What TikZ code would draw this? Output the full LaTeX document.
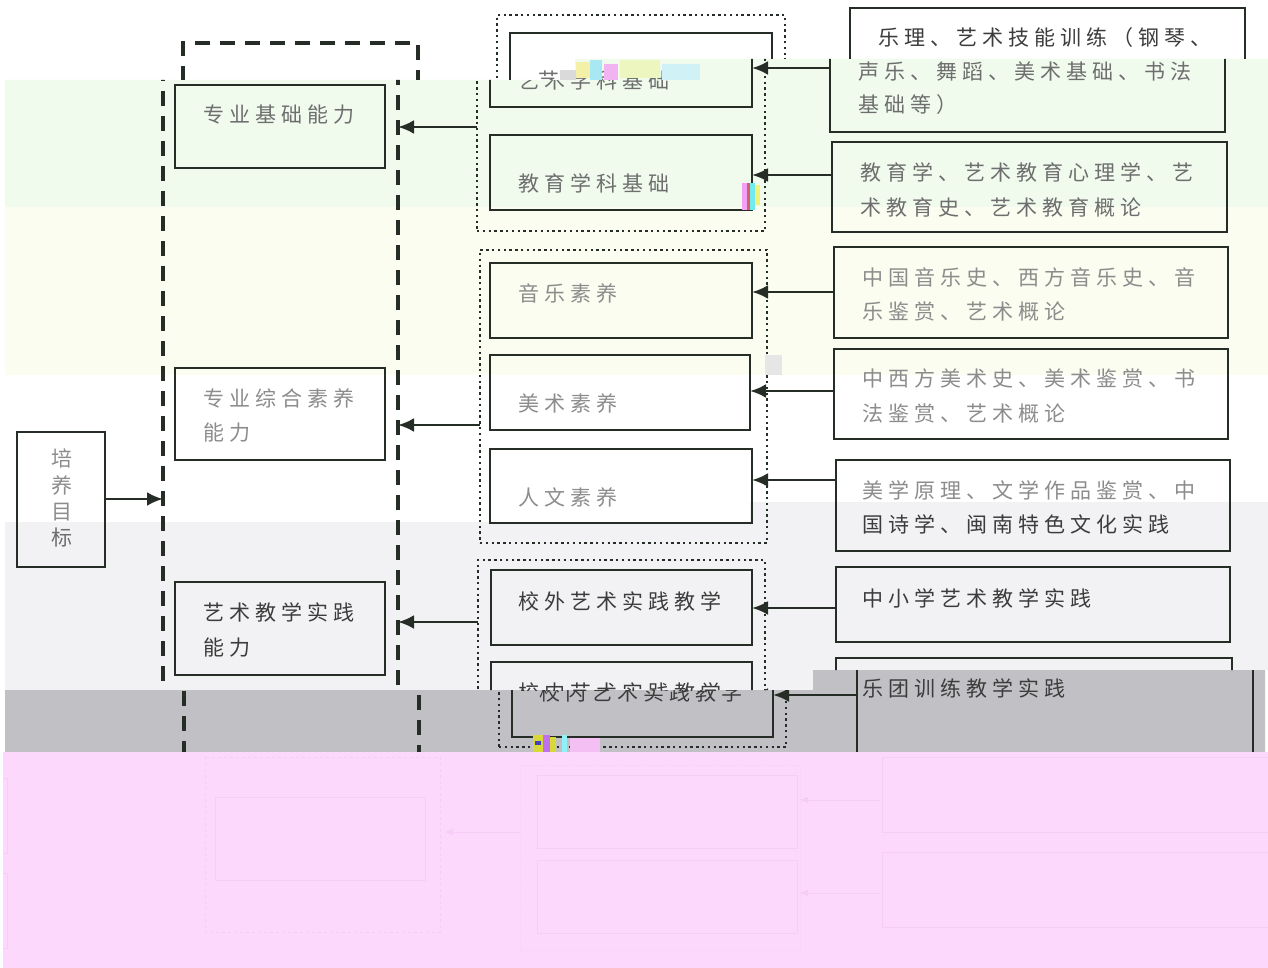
\documentclass[tikz,border=0pt]{standalone}
\usepackage{fontspec}
\newfontfamily\cjk{Noto Sans CJK SC}[LetterSpace=24]
\usetikzlibrary{arrows.meta}
\definecolor{boxc}{HTML}{262C26}
\definecolor{tA}{HTML}{3C3C3C}
\definecolor{tB}{HTML}{6E6E6E}
\definecolor{tC}{HTML}{8C8C8C}
\definecolor{bgG}{HTML}{F0FBEE}
\definecolor{bgY}{HTML}{FBFDF0}
\definecolor{bgL}{HTML}{F2F2F4}
\definecolor{bgD}{HTML}{C1C1C5}
\definecolor{bgP}{HTML}{FCD9FC}
\definecolor{ghost}{HTML}{F6CDF6}
\tikzset{
 box/.style={draw=boxc, line width=2.8pt, anchor=north west, inner sep=0pt, outer sep=0pt},
 grp/.style={draw=boxc, line width=2.6pt, dash pattern=on 2.4pt off 3.4pt, anchor=north west, inner sep=0pt, outer sep=0pt},
 bigdash/.style={draw=boxc, line width=3.2pt, dash pattern=on 15pt off 10pt, anchor=north west, inner sep=0pt, outer sep=0pt},
 arr/.style={draw=boxc, line width=2.8pt, -{Latex[length=16pt,width=14pt]}},
 txt/.style={anchor=west, inner sep=0pt, font=\cjk\fontsize{21}{26}\selectfont},
 gbox/.style={draw=ghost, line width=1pt},
}
\newcommand\rect[6]{\node[#1, minimum width={(#5-#3)*1pt}, minimum height={(#6-#4)*1pt}] (#2) at (#3,#4) {};}
\newcommand\conn[3]{\coordinate (cy) at (0,#3); \draw[arr] (#1.west |- cy) -- (#2.east |- cy);}
\newcommand\gl[5]{\definecolor{glc}{HTML}{#1}\fill[glc] (#2,#3) rectangle (#4,#5);}
\newcommand\T[5]{\node[txt, text=#2] (#1) at (#3,#4) {#5};}
\newcommand\shapes{%
 \rect{bigdash}{dbox}{163}{43}{398}{800}
 \rect{box}{goal}{17}{432}{105}{567}
 \rect{box}{m1}{175}{85}{385}{168}
 \rect{box}{m2}{175}{368}{385}{460}
 \rect{box}{m3}{175}{582}{385}{675}
 \rect{grp}{g1}{477}{15}{765}{231}
 \rect{grp}{g2}{480}{250}{767}{543}
 \rect{grp}{g3}{478}{560}{765}{747}
 \rect{box}{b1}{490}{33}{752}{107}
 \rect{box}{b2}{490}{135}{752}{210}
 \rect{box}{b3}{490}{263}{752}{338}
 \rect{box}{b4}{490}{355}{750}{430}
 \rect{box}{b5}{490}{449}{752}{523}
 \rect{box}{b6}{491}{570}{752}{645}
 \rect{box}{b7}{491}{662}{752}{737}
 \rect{box}{r1}{830}{8}{1225}{132}
 \rect{box}{r2}{832}{142}{1227}{232}
 \rect{box}{r3}{834}{247}{1228}{338}
 \rect{box}{r4}{834}{349}{1228}{439}
 \rect{box}{r5}{836}{460}{1230}{551}
 \rect{box}{r6}{836}{567}{1230}{642}
 \rect{box}{r7}{836}{658}{1232}{760}
 \coordinate (cy) at (0,499); \draw[arr] (goal.east |- cy) -- (dbox.west |- cy);
 \conn{g1}{dbox}{127}
 \conn{g2}{dbox}{425}
 \conn{g3}{dbox}{622}
 \conn{r1}{b1}{68}
 \conn{r2}{b2}{175}
 \conn{r3}{b3}{292}
 \conn{r4}{b4}{391}
 \conn{r5}{b5}{480}
 \conn{r6}{b6}{608}
 \conn{r7}{b7}{695}
}
\newcommand\textsTop{%
 \T{tb1}{tB}{518}{80}{艺术学科基础}
 \T{tr1a}{tA}{858}{38}{乐理、艺术技能训练（钢琴、}
}
\newcommand\textsMid{%
 \T{tm1}{tB}{203}{115}{专业基础能力}
 \T{tm2a}{tC}{203}{398}{专业综合素养}
 \T{tm2b}{tC}{203}{433}{能力}
 \T{tm3a}{tA}{203}{612}{艺术教学实践}
 \T{tm3b}{tA}{203}{648}{能力}
 \node[txt, anchor=center, text=tC] (tg1) at (62,458) {培};
 \node[txt, anchor=center, text=tC] (tg2) at (62,485) {养};
 \node[txt, anchor=center, text=tC] (tg3) at (62,512) {目};
 \node[txt, anchor=center, text=tB] (tg4) at (62,538) {标};
 \T{tb1}{tB}{518}{80}{艺术学科基础}
 \T{tb2}{tB}{518}{183}{教育学科基础}
 \T{tb3}{tC}{518}{293}{音乐素养}
 \T{tb4}{tC}{518}{403}{美术素养}
 \T{tb5}{tC}{518}{497}{人文素养}
 \T{tb6}{tA}{518}{601}{校外艺术实践教学}
 \T{tb7}{tA}{518}{692}{校内艺术实践教学}
 \T{tr1b}{tB}{858}{72}{声乐、舞蹈、美术基础、书法}
 \T{tr1c}{tB}{858}{105}{基础等）}
 \T{tr2a}{tB}{860}{172}{教育学、艺术教育心理学、艺}
 \T{tr2b}{tB}{860}{207}{术教育史、艺术教育概论}
 \T{tr3a}{tC}{862}{277}{中国音乐史、西方音乐史、音}
 \T{tr3b}{tC}{862}{311}{乐鉴赏、艺术概论}
 \T{tr4a}{tC}{862}{378}{中西方美术史、美术鉴赏、书}
 \T{tr4b}{tC}{862}{413}{法鉴赏、艺术概论}
 \T{tr5a}{tC}{862}{490}{美学原理、文学作品鉴赏、中}
 \T{tr5b}{tA}{862}{524}{国诗学、闽南特色文化实践}
 \T{tr6}{tA}{862}{598}{中小学艺术教学实践}
}
\newcommand\textsGray{%
 \T{tb7}{tA}{518}{692}{校内艺术实践教学}
}
\begin{document}
\begin{tikzpicture}[x=1pt,y=-1pt]
\useasboundingbox (0,0) rectangle (1268,968);
% background bands
\fill[white] (0,0) rectangle (1268,968);
\fill[bgG] (5,80) -- (575,80) -- (575,59) -- (1268,59) -- (1268,207) -- (5,207) -- cycle;
\fill[bgY] (5,207) rectangle (1268,375);
\fill[bgL] (5,522) -- (750,522) -- (750,502) -- (1268,502) -- (1268,670) -- (813,670) -- (813,690) -- (5,690) -- cycle;
\fill[bgD] (5,690) -- (813,690) -- (813,670) -- (1265,670) -- (1265,752) -- (5,752) -- cycle;
% top strip (shifted)
\begin{scope}
\clip (0,0) -- (1268,0) -- (1268,59) -- (575,59) -- (575,80) -- (0,80) -- cycle;
\begin{scope}[xshift=20pt]\shapes\textsTop\end{scope}
\end{scope}
% middle part
\begin{scope}
\clip (0,80) -- (575,80) -- (575,59) -- (1268,59) -- (1268,670) -- (813,670) -- (813,690) -- (0,690) -- cycle;
\shapes\textsMid
\end{scope}
% dark strip (shifted)
\begin{scope}
\clip (0,690) -- (813,690) -- (813,670) -- (1268,670) -- (1268,752) -- (0,752) -- cycle;
\begin{scope}[xshift=21pt]\shapes\textsGray\end{scope}
\end{scope}
\T{tr7}{tA}{862}{688}{乐团训练教学实践}
% glitch blocks
\gl{DADADA}{560}{70}{576}{80}
\gl{F4F0A8}{576}{62}{590}{78}
\gl{A8E8F2}{590}{60}{602}{80}
\gl{F2B4F0}{604}{64}{618}{80}
\gl{EEF6C0}{620}{60}{660}{78}
\gl{D0F2F6}{662}{64}{700}{80}
\gl{F3A0F6}{742}{183}{747}{210}
\gl{D86060}{747}{183}{750}{210}
\gl{70ECF0}{750}{183}{755}{210}
\gl{F2F27A}{755}{185}{760}{205}
\gl{E6E6E6}{765}{355}{782}{375}
\gl{D8D83A}{533}{735}{543}{752}
\gl{4040C0}{535}{741}{541}{745}
\gl{C070F0}{543}{735}{550}{752}
\gl{D8D83A}{550}{737}{556}{752}
\gl{90F0F8}{562}{735}{567}{752}
\gl{F4C0F4}{570}{738}{600}{752}
% pink band with ghost
\fill[bgP] (3,752) rectangle (1268,968);
\draw[gbox, dashed] (205,757) rectangle (440,932);
\draw[gbox] (215,797) rectangle (425,880);
\draw[gbox, -{Latex[length=8pt,width=7pt]}] (520,832) -- (445,832);
\draw[gbox, dotted] (520,765) rectangle (800,950);
\draw[gbox] (537,775) rectangle (797,848);
\draw[gbox] (537,860) rectangle (797,933);
\draw[gbox, -{Latex[length=8pt,width=7pt]}] (880,800) -- (800,800);
\draw[gbox, -{Latex[length=8pt,width=7pt]}] (880,893) -- (800,893);
\draw[gbox] (882,757) rectangle (1275,832);
\draw[gbox] (882,852) rectangle (1275,927);
\draw[gbox] (3,778) -- (7,778) -- (7,853) -- (3,853);
\draw[gbox] (3,873) -- (7,873) -- (7,948) -- (3,948);
\end{tikzpicture}
\end{document}
